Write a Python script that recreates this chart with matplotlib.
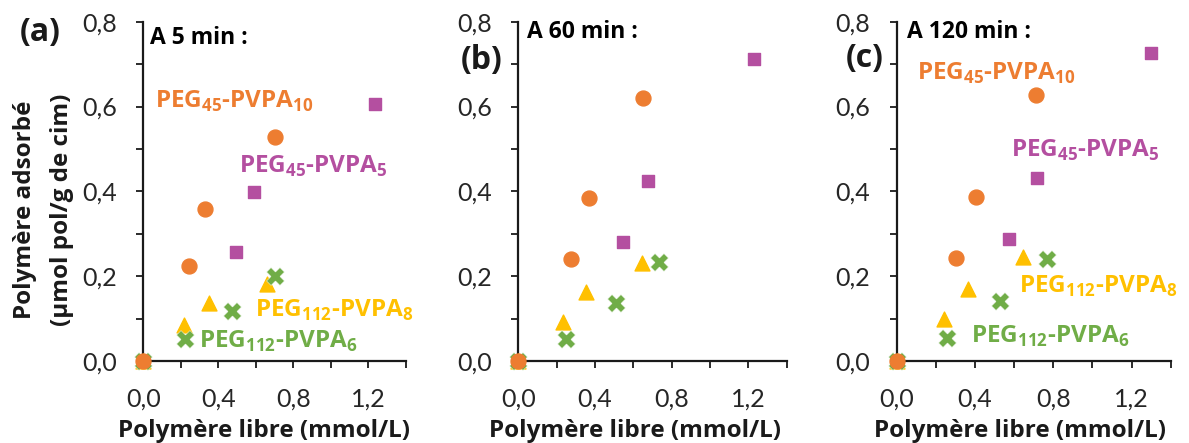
import matplotlib
matplotlib.use("Agg")
import matplotlib.pyplot as plt
from matplotlib.ticker import MultipleLocator, FixedLocator

plt.rcParams['font.family'] = ['Lato', 'DejaVu Sans']
plt.rcParams['mathtext.fontset'] = 'custom'
plt.rcParams['mathtext.rm'] = 'Open Sans'
plt.rcParams['mathtext.bf'] = 'Open Sans:bold'
BF = ['Open Sans', 'DejaVu Sans']

# données : (polymère libre mmol/L, polymère adsorbé µmol/g)
times = ["A 5 min :", "A 60 min :", "A 120 min :"]
letters = ["(a)", "(b)", "(c)"]

peg45_pvpa10_x = [[0, 0.244, 0.331, 0.702], [0, 0.273, 0.369, 0.652], [0, 0.301, 0.405, 0.710]]
peg45_pvpa10_y = [[0, 0.225, 0.358, 0.529], [0, 0.241, 0.384, 0.621], [0, 0.242, 0.387, 0.626]]

peg45_pvpa5_x = [[0, 0.496, 0.590, 1.236], [0, 0.545, 0.678, 1.231], [0, 0.575, 0.719, 1.298]]
peg45_pvpa5_y = [[0, 0.258, 0.399, 0.607], [0, 0.280, 0.425, 0.712], [0, 0.287, 0.432, 0.726]]

peg112_pvpa8_x = [[0, 0.219, 0.352, 0.658], [0, 0.235, 0.352, 0.647], [0, 0.242, 0.366, 0.647]]
peg112_pvpa8_y = [[0, 0.085, 0.136, 0.182], [0, 0.093, 0.162, 0.230], [0, 0.100, 0.169, 0.246]]

peg112_pvpa6_x = [[0, 0.222, 0.471, 0.702], [0, 0.249, 0.508, 0.732], [0, 0.259, 0.528, 0.766]]
peg112_pvpa6_y = [[0, 0.051, 0.119, 0.200], [0, 0.053, 0.136, 0.234], [0, 0.055, 0.142, 0.240]]

c_orange = "#ED7D31"
c_purple = "#B44FA0"
c_yellow = "#FFC000"
c_green = "#70AD47"

lab_10 = r"PEG$_{\mathbf{45}}$-PVPA$_{\mathbf{10}}$"
lab_5 = r"PEG$_{\mathbf{45}}$-PVPA$_{\mathbf{5}}$"
lab_8 = r"PEG$_{\mathbf{112}}$-PVPA$_{\mathbf{8}}$"
lab_6 = r"PEG$_{\mathbf{112}}$-PVPA$_{\mathbf{6}}$"

# positions des étiquettes (données) par panneau
label_pos = [
    {lab_10: (0.062, 0.597, c_orange), lab_5: (0.51, 0.444, c_purple),
     lab_8: (0.596, 0.104, c_yellow), lab_6: (0.299, 0.030, c_green)},
    {},
    {lab_10: (0.102, 0.664, c_orange), lab_5: (0.583, 0.482, c_purple),
     lab_8: (0.625, 0.160, c_yellow), lab_6: (0.378, 0.042, c_green)},
]
title_pos = [(0.036, 0.748), (0.044, 0.761), (0.054, 0.761)]

W, H = 1189, 443
fig = plt.figure(figsize=(W / 100, H / 100), dpi=100)

axes_px = [(143.3, 405.5), (518.3, 786.7), (896.7, 1170.7)]
y0_px, y1_px = 361, 21.7
letter_px = [(40, 32), (482, 60), (865, 58)]
xlabel_cx = [264, 635, 1020]

axcol = "#1a1a1a"
for i in range(3):
    l, r = axes_px[i]
    ax = fig.add_axes([l / W, 1 - y0_px / H, (r - l) / W, (y0_px - y1_px) / H])
    ax.scatter(peg45_pvpa5_x[i], peg45_pvpa5_y[i], marker="s", s=82, color=c_purple, zorder=3, clip_on=False)
    ax.scatter(peg112_pvpa8_x[i], peg112_pvpa8_y[i], marker="^", s=115, color=c_yellow, zorder=4, clip_on=False)
    ax.scatter(peg112_pvpa6_x[i], peg112_pvpa6_y[i], marker="X", s=165, color=c_green, edgecolor="white",
               linewidth=0.3, zorder=5, clip_on=False)
    ax.scatter(peg45_pvpa10_x[i], peg45_pvpa10_y[i], marker="o", s=115, color=c_orange, zorder=6, clip_on=False)

    ax.set_xlim(0, 1.4)
    ax.set_ylim(0, 0.8)
    ax.xaxis.set_major_locator(FixedLocator([0, 0.4, 0.8, 1.2]))
    ax.xaxis.set_minor_locator(MultipleLocator(0.2))
    ax.yaxis.set_major_locator(MultipleLocator(0.2))
    ax.yaxis.set_minor_locator(MultipleLocator(0.1))
    ax.xaxis.set_major_formatter(lambda v, p: f"{v:.1f}".replace(".", ","))
    ax.yaxis.set_major_formatter(lambda v, p: f"{v:.1f}".replace(".", ","))
    for s in ["top", "right"]:
        ax.spines[s].set_visible(False)
    for s in ["left", "bottom"]:
        ax.spines[s].set_linewidth(1.6)
        ax.spines[s].set_color(axcol)
    ax.tick_params(which="both", direction="out", length=5, width=1.3, color=axcol)
    ax.tick_params(which="major", labelsize=18, pad=14, labelcolor="#262626")
    ax.patch.set_visible(False)

    tx, ty = title_pos[i]
    ax.text(tx, ty, times[i], fontsize=16.5, fontweight="bold", family=BF, va="baseline", color="black")
    for txt, (lx, ly, col) in label_pos[i].items():
        ax.text(lx, ly, txt, fontsize=17.5, fontweight="bold", family=BF, color=col, va="baseline", zorder=7)

    px, py = letter_px[i]
    fig.text(px / W, 1 - py / H, letters[i], fontsize=23, fontweight="bold", family=BF, ha="center",
             va="center", color="#1a1a1a")
    fig.text(xlabel_cx[i] / W, 1 - 437 / H, "Polymère libre (mmol/L)", fontsize=17.5, fontweight="bold",
             family=BF, ha="center", va="baseline", color="#1a1a1a")

fig.text(25 / W, 1 - 210 / H, "Polymère adsorbé", rotation=90, fontsize=17.5, fontweight="bold", family=BF,
         ha="center", va="center", color="#1a1a1a")
fig.text(62 / W, 1 - 210 / H, "(µmol pol/g de cim)", rotation=90, fontsize=17.5, fontweight="bold", family=BF,
         ha="center", va="center", color="#1a1a1a")

fig.savefig("out.png", dpi=100)
